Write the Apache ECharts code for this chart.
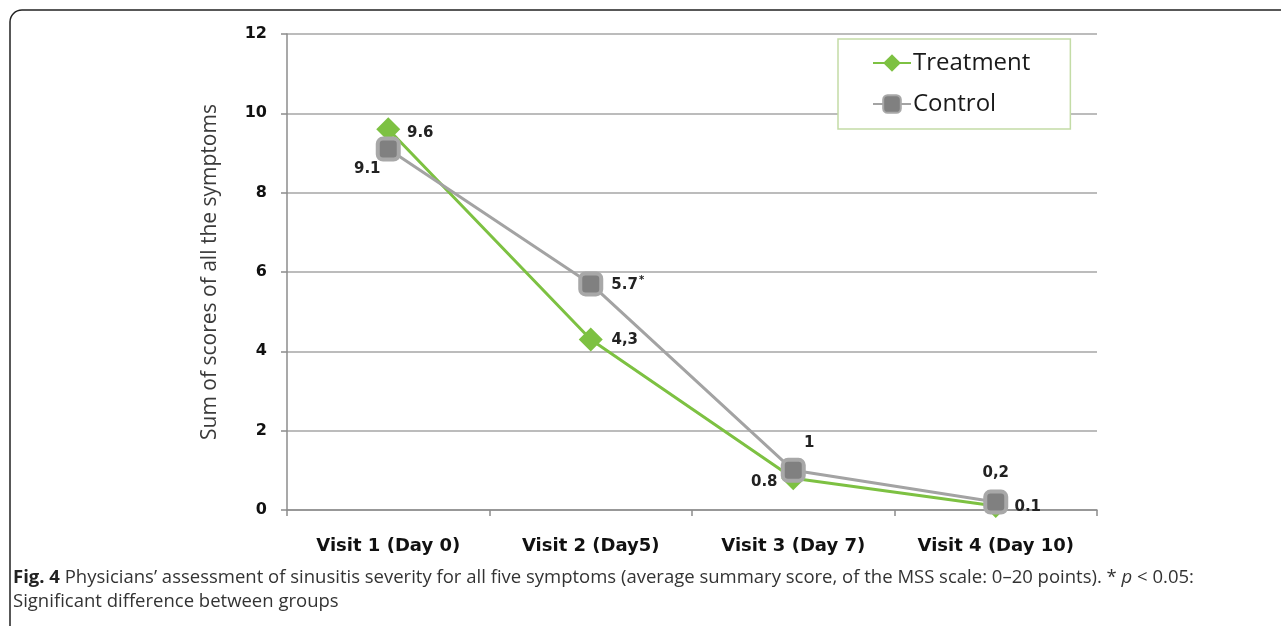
<!DOCTYPE html>
<html><head><meta charset="utf-8">
<script src="https://cdn.jsdelivr.net/npm/echarts@6/dist/echarts.min.js"></script>
<style>html,body{margin:0;padding:0;background:#fff}#c{width:1281px;height:626px}</style>
</head><body><div id="c"></div>
<script>
const categories = ['Visit 1 (Day 0)', 'Visit 2 (Day5)', 'Visit 3 (Day 7)', 'Visit 4 (Day 10)'];
const treatment = [9.6, 4.3, 0.8, 0.1];
const control = [9.1, 5.7, 1, 0.2];
const treatmentLabels = ['9.6', '4,3', '0.8', '0.1'];
const controlLabels = ['9.1', '5.7{s|*}', '1', '0,2'];
const yTicks = [0, 2, 4, 6, 8, 10, 12];

// label placement (styling, not data)
const tLabelOffsets = [[32, 4], [34, 1], [-29, 4], [32, 1]];
const cLabelOffsets = [[-21, 20], [37, 1], [16, -27], [0, -29]];

const labelFont = { fontFamily: 'DejaVu Sans', fontWeight: 'bold', fontSize: 15, color: '#222' };

function buildData(vals, labels, offs) {
  return vals.map((v, i) => ({
    value: v,
    label: { show: true, position: 'inside', offset: offs[i], formatter: labels[i], ...labelFont,
      rich: { s: { fontSize: 10, fontWeight: 'bold', fontFamily: 'DejaVu Sans', color: '#222', verticalAlign: 'top', padding: [0,0,9,1] } } }
  }));
}

const chart = echarts.init(document.getElementById('c'));
chart.setOption({
  animation: false,
  backgroundColor: '#fff',
  grid: { left: 287, right: 184, top: 34, bottom: 116 },
  legend: {
    left: 838, top: 39, orient: 'vertical',
    padding: [12, 40, 13, 34],
    itemGap: 17,
    itemWidth: 38, itemHeight: 22,
    borderColor: '#c3dca6', borderWidth: 1.5, backgroundColor: '#fff',
    textStyle: { fontFamily: 'Open Sans', fontSize: 24, color: '#1a1a1a', padding: [0,0,0,-3] },
    data: ['Treatment', 'Control']
  },
  xAxis: {
    type: 'category', data: categories, boundaryGap: true,
    axisLine: { lineStyle: { color: '#8c8c8c', width: 1.5 } },
    axisTick: { show: true, length: 6, lineStyle: { color: '#8c8c8c', width: 1.5 } },
    axisLabel: { interval: 0, margin: 27, fontFamily: 'DejaVu Sans', fontWeight: 'bold', fontSize: 18, color: '#111' }
  },
  yAxis: {
    type: 'value', min: 0, max: 12, interval: 2,
    name: 'Sum of scores of all the symptoms', nameLocation: 'middle', nameGap: 66,
    nameTextStyle: { fontFamily: 'Open Sans', fontSize: 21, color: '#3a3a3a' },
    axisLine: { show: true, lineStyle: { color: '#8c8c8c', width: 1.5 } },
    axisTick: { show: true, length: 6, lineStyle: { color: '#8c8c8c', width: 1.5 } },
    splitLine: { lineStyle: { color: '#a6a6a6', width: 1.5 } },
    axisLabel: { margin: 20, fontFamily: 'DejaVu Sans', fontWeight: 'bold', fontSize: 16, color: '#111',
      formatter: v => yTicks.includes(v) ? String(v) : '' }
  },
  series: [
    {
      name: 'Treatment', type: 'line', data: buildData(treatment, treatmentLabels, tLabelOffsets),
      symbol: 'diamond', symbolSize: 24, z: 3,
      lineStyle: { color: '#7dc142', width: 3 },
      itemStyle: { color: '#7dc142' }
    },
    {
      name: 'Control', type: 'line', data: buildData(control, controlLabels, cLabelOffsets),
      symbol: 'roundRect', symbolSize: 21, z: 4,
      lineStyle: { color: '#a3a3a3', width: 3 },
      itemStyle: { color: '#808080', borderColor: '#a8a8a8', borderWidth: 4 }
    }
  ],
  graphic: [
    { type: 'rect', silent: true, z: -1, shape: { x: 10, y: 10, width: 1300, height: 640, r: 12 },
      style: { fill: 'none', stroke: '#222', lineWidth: 1.5 } },
    { type: 'text', left: 13, top: 568, silent: true,
      style: { text: '{b|Fig. 4} Physicians’ assessment of sinusitis severity for all five symptoms (average summary score, of the MSS scale: 0–20 points). * {i|p} < 0.05:',
        fontFamily: 'Open Sans', fontSize: 18.5, fill: '#333',
        rich: { b: { fontWeight: 'bold', fontFamily: 'Open Sans', fontSize: 18.5, fill: '#222' },
                i: { fontStyle: 'italic', fontFamily: 'Open Sans', fontSize: 18.5, fill: '#333' } } } },
    { type: 'text', left: 13, top: 592, silent: true,
      style: { text: 'Significant difference between groups',
        fontFamily: 'Open Sans', fontSize: 18.5, fill: '#333' } }
  ]
});
</script></body></html>
